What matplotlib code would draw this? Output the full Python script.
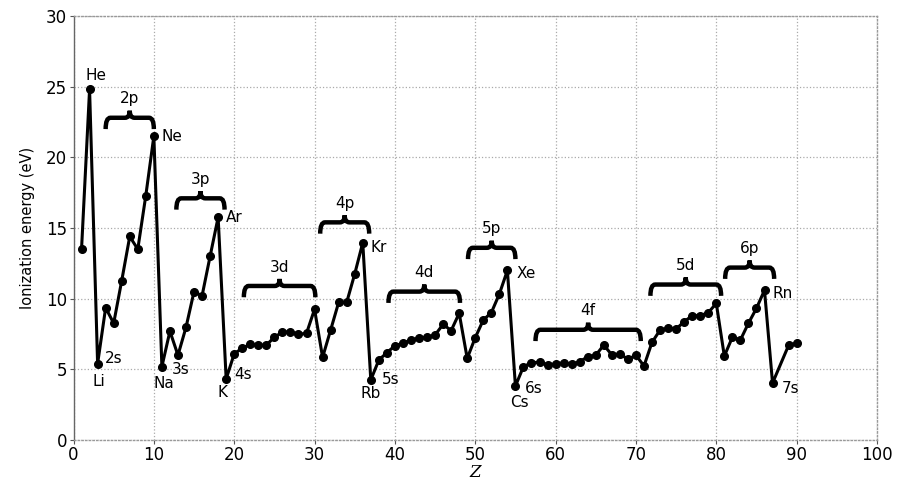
import matplotlib
matplotlib.use("Agg")
import matplotlib.pyplot as plt
from matplotlib.path import Path
from matplotlib.patches import PathPatch

# atomic number and first ionization energy (eV)
z = list(range(1, 88)) + [89, 90]
energy = [13.5, 24.8, 5.4, 9.36, 8.26, 11.27, 14.4, 13.5, 17.3, 21.5,
          5.19, 7.7, 6.0, 7.97, 10.5, 10.2, 13.0, 15.76, 4.32, 6.1,
          6.5, 6.77, 6.7, 6.72, 7.27, 7.64, 7.66, 7.48, 7.55, 9.25,
          5.85, 7.78, 9.74, 9.74, 11.75, 13.96, 4.25, 5.66, 6.18, 6.67,
          6.84, 7.08, 7.2, 7.27, 7.43, 8.19, 7.74, 8.97, 5.78, 7.24,
          8.49, 9.01, 10.33, 12.0, 3.82, 5.19, 5.47, 5.5, 5.33, 5.38,
          5.47, 5.36, 5.54, 5.9, 6.0, 6.72, 6.02, 6.09, 5.71, 6.0,
          5.24, 6.91, 7.78, 7.9, 7.86, 8.37, 8.8, 8.8, 9.01, 9.67,
          5.94, 7.27, 7.08, 8.26, 9.32, 10.6, 4.03, 6.7, 6.85]

# element labels: (Z, text, dx px, dy px, ha)
elements = [(2, "He", 6, 14, "center"), (10, "Ne", 8, 0, "left"),
            (18, "Ar", 8, 0, "left"), (36, "Kr", 8, -5, "left"),
            (54, "Xe", 9, -3, "left"), (86, "Rn", 8, -3, "left"),
            (3, "Li", 1, -18, "center"), (11, "Na", 2, -17, "center"),
            (19, "K", -4, -14, "center"), (37, "Rb", 0, -14, "center"),
            (55, "Cs", 4, -16, "center")]

# shell labels next to alkali points: (Z, text, dx px, dy px)
shells = [(3, "2s", 7, 5), (11, "3s", 10, -3), (19, "4s", 8, 4),
          (37, "5s", 11, 0), (55, "6s", 9, -2), (87, "7s", 9, -5)]

# subshell braces: (start Z, end Z, bar level eV, label)
braces = [(4.0, 10.0, 22.8, "2p"), (12.8, 18.8, 17.1, "3p"),
          (21.2, 30.1, 10.9, "3d"), (30.7, 36.8, 15.4, "4p"),
          (39.2, 48.1, 10.5, "4d"), (49.1, 55.0, 13.6, "5p"),
          (57.5, 70.6, 7.8, "4f"), (71.8, 80.6, 11.0, "5d"),
          (81.1, 87.2, 12.2, "6p")]


def draw_brace(ax, x0, x1, y, label):
    xm = (x0 + x1) / 2
    r = 0.6
    depth = 0.8
    cusp = 0.5
    verts = [(x0, y - depth), (x0, y), (x0 + r, y),
             (xm - r, y), (xm, y), (xm, y + cusp),
             (xm, y), (xm + r, y),
             (x1 - r, y), (x1, y), (x1, y - depth)]
    codes = [Path.MOVETO, Path.CURVE3, Path.CURVE3,
             Path.LINETO, Path.CURVE3, Path.CURVE3,
             Path.CURVE3, Path.CURVE3,
             Path.LINETO, Path.CURVE3, Path.CURVE3]
    ax.add_patch(PathPatch(Path(verts, codes), fill=False, lw=3.2,
                           color="black", capstyle="butt", zorder=4))
    ax.text(xm, y + cusp + 0.3, label, ha="center", va="bottom", fontsize=11)


fig = plt.figure(figsize=(9.03, 4.82), dpi=100)
ax = fig.add_axes([0.0814, 0.0871, 0.8898, 0.8797])

ax.plot(z, energy, color="black", lw=2.2, marker="o", markersize=5.5, zorder=5)

for zz, txt, dx, dy, ha in elements:
    ax.annotate(txt, (zz, energy[z.index(zz)]), xytext=(dx, dy),
                textcoords="offset pixels", ha=ha, va="center", fontsize=11)
for zz, txt, dx, dy in shells:
    ax.annotate(txt, (zz, energy[z.index(zz)]), xytext=(dx, dy),
                textcoords="offset pixels", ha="left", va="center", fontsize=11)

for x0, x1, y, lab in braces:
    draw_brace(ax, x0, x1, y, lab)

ax.set_xlim(0, 100)
ax.set_ylim(0, 30)
ax.set_xticks(range(0, 101, 10))
ax.set_yticks(range(0, 31, 5))
ax.tick_params(labelsize=12, length=3, pad=1.5, color="#555555")
ax.grid(True, color="#aaaaaa", linestyle=":", linewidth=0.9)
for s in ax.spines.values():
    s.set_color("#999999")
    s.set_linestyle(":")
    s.set_linewidth(1.0)
ax.spines["left"].set_linestyle("-")
ax.spines["left"].set_color("#666666")

ax.set_xlabel("Z", fontsize=12, fontstyle="italic", family="serif")
ax.xaxis.set_label_coords(0.5, -0.056)
ax.set_ylabel("Ionization energy (eV)", fontsize=10.5, labelpad=8)

fig.savefig("out.png", dpi=100)
